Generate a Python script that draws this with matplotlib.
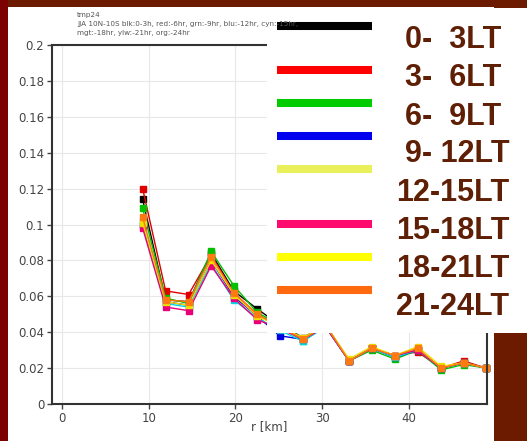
import matplotlib.pyplot as plt
from matplotlib.patches import Rectangle

# radial bins [km]
r = [9.3, 11.95, 14.6, 17.2, 19.8, 22.5, 25.1, 27.8,
     30.4, 33.1, 35.7, 38.4, 41.0, 43.7, 46.3, 48.9]

# one series per 3-hour LT window
lt_black = [0.114, 0.058, 0.057, 0.084, 0.063, 0.053, 0.044, 0.037,
            0.044, 0.024, 0.031, 0.027, 0.030, 0.020, 0.023, 0.020]
lt_red = [0.120, 0.063, 0.061, 0.083, 0.062, 0.050, 0.043, 0.036,
          0.043, 0.024, 0.031, 0.027, 0.029, 0.020, 0.024, 0.020]
lt_green = [0.109, 0.059, 0.056, 0.085, 0.066, 0.051, 0.044, 0.035,
            0.044, 0.024, 0.030, 0.025, 0.030, 0.019, 0.022, 0.020]
lt_blue = [0.100, 0.057, 0.055, 0.080, 0.060, 0.049, 0.038, 0.036,
           0.043, 0.024, 0.031, 0.026, 0.030, 0.020, 0.023, 0.020]
lt_cyan = [0.102, 0.056, 0.054, 0.078, 0.058, 0.048, 0.041, 0.035,
           0.043, 0.024, 0.031, 0.026, 0.030, 0.020, 0.023, 0.020]
lt_magenta = [0.098, 0.054, 0.052, 0.077, 0.059, 0.047, 0.042, 0.036,
              0.043, 0.024, 0.031, 0.027, 0.030, 0.020, 0.023, 0.020]
lt_yellow = [0.101, 0.057, 0.055, 0.080, 0.061, 0.049, 0.043, 0.037,
             0.044, 0.025, 0.032, 0.027, 0.032, 0.021, 0.023, 0.020]
lt_orange = [0.104, 0.058, 0.057, 0.082, 0.062, 0.050, 0.043, 0.036,
             0.044, 0.024, 0.031, 0.027, 0.031, 0.020, 0.023, 0.020]

series = [lt_black, lt_red, lt_green, lt_blue, lt_cyan, lt_magenta, lt_yellow, lt_orange]
plot_colors = ['black', '#e00000', '#00c000', '#0000e0', '#00d8e8', '#e8007a', '#f0e000', '#ff7a10']

labels = ['0-  3LT', '3-  6LT', '6-  9LT', '9- 12LT', '12-15LT', '15-18LT', '18-21LT', '21-24LT']
key_colors = ['black', '#ff0000', '#00cc00', '#0000ee', '#eaf05a', '#ff0a6e', '#ffff00', '#ff6a10']

title_lines = ['tmp24',
               'JJA 10N-10S blk:0-3h, red:-6hr, grn:-9hr, blu:-12hr, cyn:-15hr,',
               'mgt:-18hr, ylw:-21hr, org:-24hr']

W, H = 527, 441
fig = plt.figure(figsize=(W / 100, H / 100), dpi=100)
fig.patch.set_facecolor('#6c1a00')

# slide background pieces
fig.add_artist(Rectangle((0, 0), 8 / W, 1, transform=fig.transFigure,
                         facecolor='#7c0202', edgecolor='none', zorder=-10))
fig.add_artist(Rectangle((8 / W, 0), (494 - 8) / W, (H - 7) / H, transform=fig.transFigure,
                         facecolor='white', edgecolor='none', zorder=-10))

ax = fig.add_axes([52 / W, (H - 404) / H, (487 - 52) / W, (404 - 45) / H])
for ys, c in zip(series, plot_colors):
    ax.plot(r, ys, color=c, lw=1.0, marker='s', ms=5, mec=c, clip_on=False)

ax.set_xlim(-1.15, 49)
ax.set_ylim(0, 0.2)
ax.set_xticks([0, 10, 20, 30, 40])
ax.set_yticks([0, 0.02, 0.04, 0.06, 0.08, 0.1, 0.12, 0.14, 0.16, 0.18, 0.2])
ax.set_yticklabels(['0', '0.02', '0.04', '0.06', '0.08', '0.1', '0.12', '0.14', '0.16', '0.18', '0.2'])
ax.tick_params(labelsize=8.5, labelcolor='#444444', color='#444444', length=3.5, width=1, pad=2)
ax.grid(True, color='#e8e8e8', lw=0.8)
for s in ax.spines.values():
    s.set_color('#333333')
    s.set_linewidth(1.5)
ax.set_xlabel('r [km]', fontsize=8.5, color='#444444', labelpad=-3)

for i, t in enumerate(title_lines):
    fig.text(77 / W, 1 - (15 + 9 * i) / H, t, fontsize=5.2, color='#555555', va='center')

# legend overlay box (slide annotation)
lg = fig.add_axes([267 / W, (H - 333) / H, (W - 267) / W, (333 - 8) / H])
lg.set_xlim(267, W)
lg.set_ylim(333, 8)
lg.axis('off')
lg.add_patch(Rectangle((267, 8), W - 267, 325, facecolor='white', edgecolor='none', zorder=0))
key_y = [26, 70, 103, 136, 169, 224, 257, 290]
text_y = [40, 78, 117, 154, 193, 231, 269, 307]
text_x = [405, 405, 405, 405, 396, 396, 396, 396]
for ky, ty, tx, c, lab in zip(key_y, text_y, text_x, key_colors, labels):
    lg.plot([277, 372], [ky, ky], color=c, lw=5.8, solid_capstyle='butt', zorder=2)
    lg.text(tx, ty, lab, fontsize=22, fontweight='bold', family='Liberation Sans',
            color='#5e1f05', ha='left', va='center', zorder=3)

fig.savefig('out.png', dpi=100, facecolor=fig.get_facecolor())
